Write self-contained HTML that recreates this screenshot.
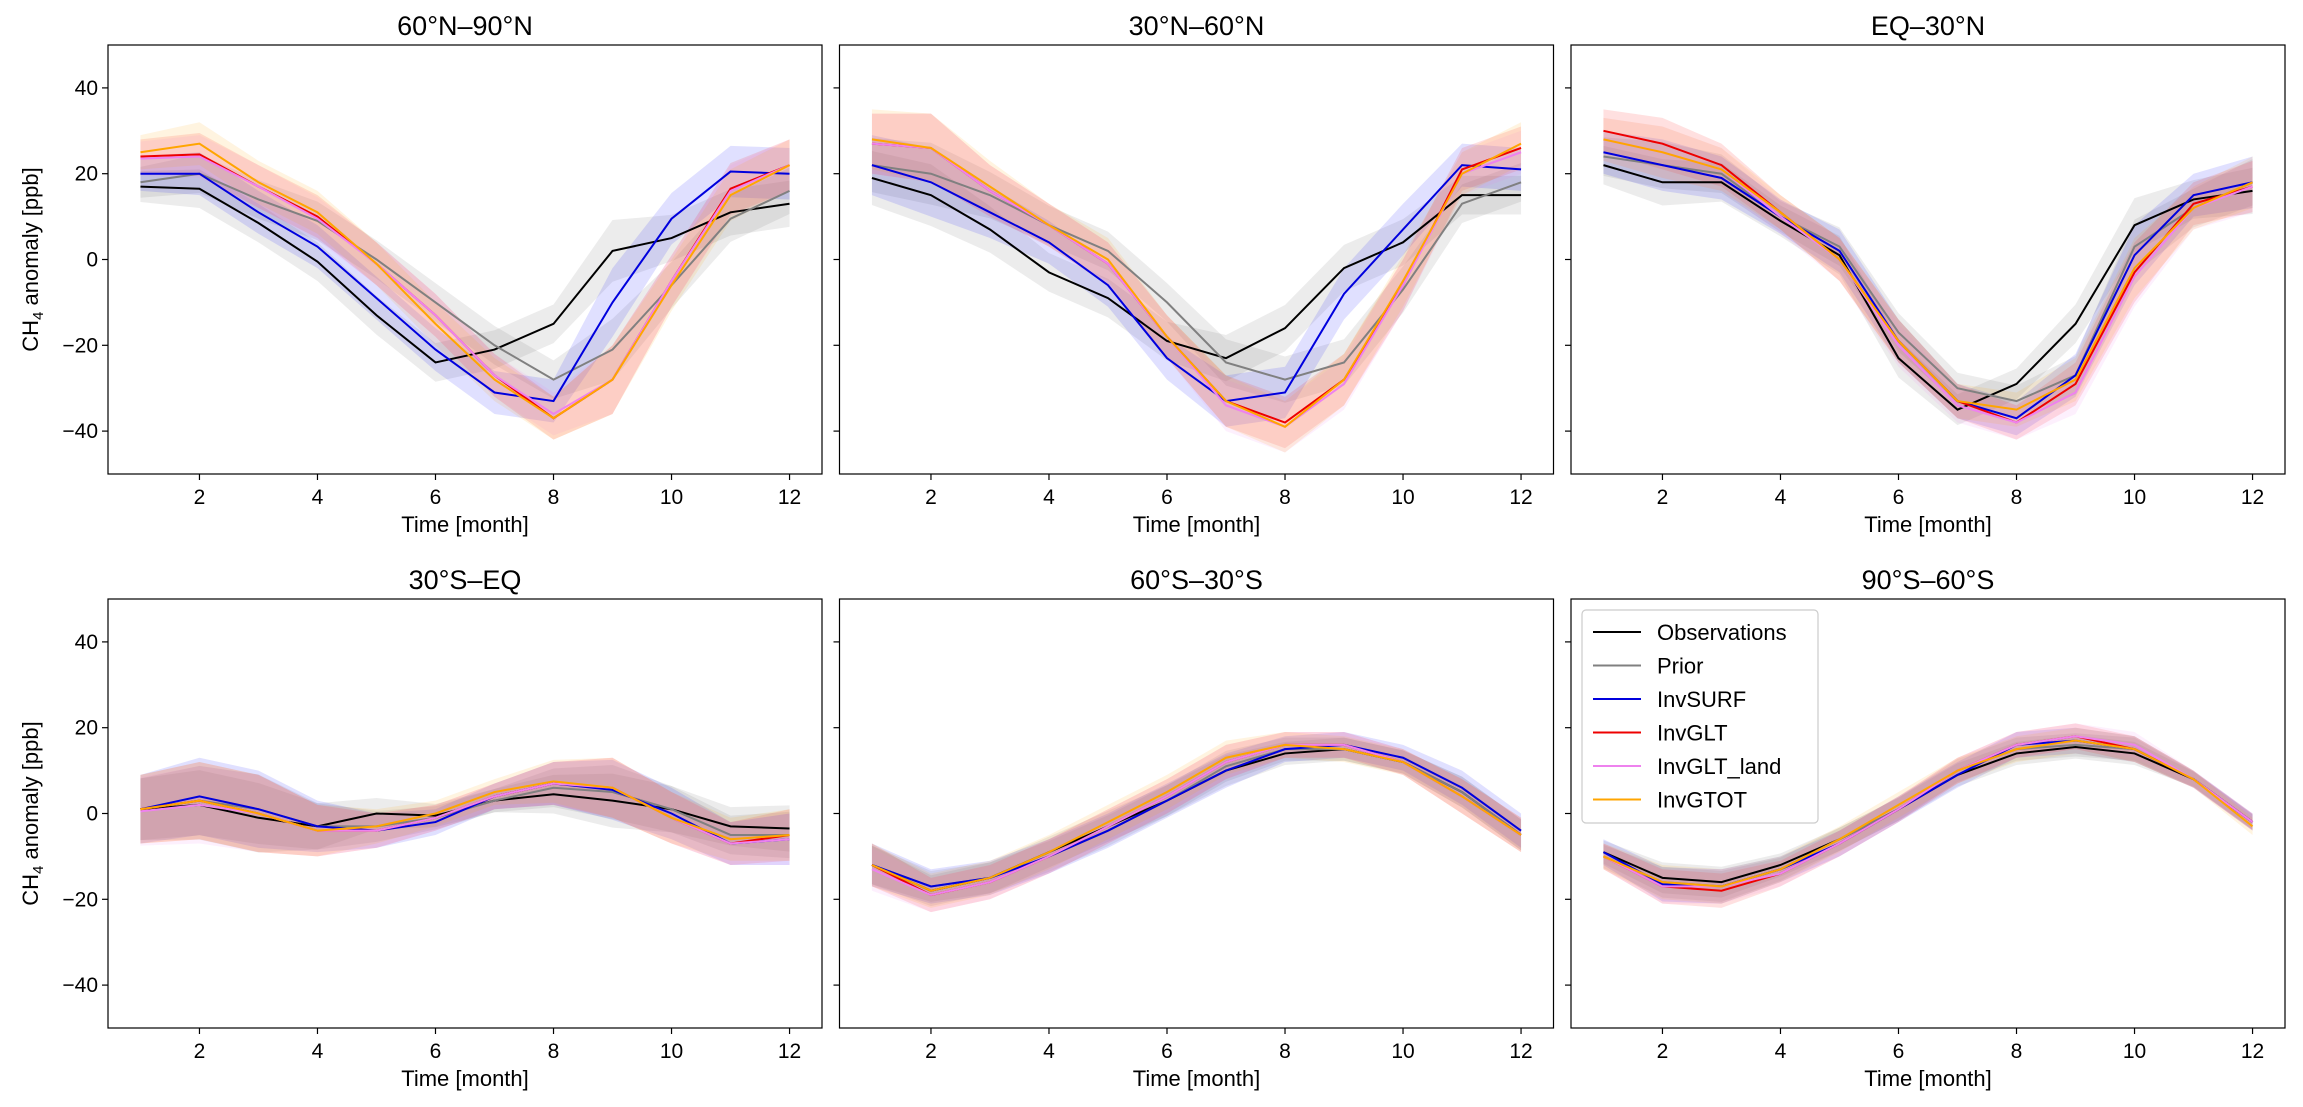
<!DOCTYPE html>
<html><head><meta charset="utf-8"><style>
html,body{margin:0;padding:0;background:#fff;}
svg{display:block;font-family:"Liberation Sans","DejaVu Sans",sans-serif;}
</style></head><body>
<svg id="fig" width="2303" height="1107" viewBox="0 0 2303 1107" xmlns="http://www.w3.org/2000/svg"></svg>
<script>
const months=[1,2,3,4,5,6,7,8,9,10,11,12];
const xTicks=[2,4,6,8,10,12];
const yTicks=[40,20,0,-20,-40];
const yTickLabels=["40","20","0","\u221220","\u221240"];
const seriesNames=["Observations","Prior","InvSURF","InvGLT","InvGLT_land","InvGTOT"];
const titles=["60°N–90°N","30°N–60°N","EQ–30°N","30°S–EQ","60°S–30°S","90°S–60°S"];
// panel 1
const p1Obs=[17,16.5,8.5,-0.5,-13,-24,-21,-15,2,5,11,13];
const p1Prior=[18,20,14,9,0,-10,-20,-28,-21,-6,9.5,16];
const p1Surf=[20,20,11,3,-9,-21,-31,-33,-10,9.5,20.5,20];
const p1Glt=[24,24.5,17,10,-1,-13,-27,-37,-28,-5,16.5,22];
const p1Land=[23.5,24,17,9.5,-1,-13,-27,-36,-28,-5,16,22];
const p1Gtot=[25,27,18,11,-1,-15,-28,-37,-28,-6,15,22];
const p1Spread=[4,5,5,5,5,5,5,5,8,6,6,6];
// panel 2
const p2Obs=[19,15,7,-3,-9,-19,-23,-16,-2,4,15,15];
const p2Prior=[22,20,15,8,2,-10,-24,-28,-24,-7,13,18];
const p2Surf=[22,18,11,4,-6,-23,-33,-31,-8,7,22,21];
const p2Glt=[27,26,16,8,-1,-18,-33,-38,-28,-6,21,26];
const p2Land=[27,26,16,8,-1,-18,-34,-39,-29,-6,20,25];
const p2Gtot=[28,26,17,8,0,-18,-33,-39,-28,-5,20,27];
const p2Spread=[7,8,6,5,5,5,6,6,6,6,5,5];
// panel 3
const p3Obs=[22,18,18,9,1,-23,-35,-29,-15,8,14,16];
const p3Prior=[24,22,20,10,3,-17,-30,-33,-27,3,12,18];
const p3Surf=[25,22,19,10,2,-19,-33,-37,-27,1,15,18];
const p3Glt=[30,27,22,11,0,-19,-33,-38,-29,-3,13,17];
const p3Land=[28,25,21,10,0,-20,-34,-38,-31,-4,12,17];
const p3Gtot=[28,25,21,11,0,-19,-33,-35,-28,-2,12,18];
const p3Spread=[5,6,5,4,5,5,4,4,5,7,5,6];
// panel 4
const p4Obs=[1,2,-1,-3,0,-0.5,3,4.5,3,1,-3,-3.5];
const p4Prior=[1,3,1,-3,-3,-1,3,6,5,1,-5,-5];
const p4Surf=[1,4,1,-3,-4,-2,4,7,5.5,0,-7,-6];
const p4Glt=[1,3,0,-4,-4,-1,4,7,6,-1,-7,-5];
const p4Land=[0.5,2,0,-4,-4,-1,4,7,6,-1,-7,-6];
const p4Gtot=[1,3,0,-4,-3,0,5,7.5,6,-1,-6,-5];
const p4Spread=[8,9,9,6,4,3,3,5,7,6,5,6];
// panel 5
const p5Obs=[-12,-18,-15,-9,-3,3,10,14,15,12,5,-5];
const p5Prior=[-12,-17,-15,-10,-4,3,11,15,15,12,5,-5];
const p5Surf=[-12,-17,-15,-10,-4,3,10,15,16,13,6,-4];
const p5Glt=[-12,-19,-16,-10,-3,4,12,16,16,12,4,-5];
const p5Land=[-13,-19,-16,-10,-3,4,12,16,16,12,4,-5];
const p5Gtot=[-12,-18,-15,-9,-2,5,13,16,15,12,4,-5];
const p5Spread=[5,4,4,4,4,4,4,3,3,3,4,4];
// panel 6
const p6Obs=[-9,-15,-16,-12,-6,1,9,14,15.5,14,8,-2];
const p6Prior=[-10,-16,-17,-13,-6,1,10,15,16,15,8,-2];
const p6Surf=[-9,-16.5,-17,-13,-7,1,9,16,17,15,8,-2];
const p6Glt=[-10,-17,-18,-14,-7,1,10,16,18,15,8,-2];
const p6Land=[-10,-17,-17,-14,-7,1,10,16,18,16,8,-2];
const p6Gtot=[-10,-16,-17,-13,-6,2,10,15,17,15,8,-3];
const p6Spread=[3,4,4,3,3,3,3,3,3,3,2,2];

const panels=[
 [p1Obs,p1Prior,p1Surf,p1Glt,p1Land,p1Gtot,p1Spread],
 [p2Obs,p2Prior,p2Surf,p2Glt,p2Land,p2Gtot,p2Spread],
 [p3Obs,p3Prior,p3Surf,p3Glt,p3Land,p3Gtot,p3Spread],
 [p4Obs,p4Prior,p4Surf,p4Glt,p4Land,p4Gtot,p4Spread],
 [p5Obs,p5Prior,p5Surf,p5Glt,p5Land,p5Gtot,p5Spread],
 [p6Obs,p6Prior,p6Surf,p6Glt,p6Land,p6Gtot,p6Spread]];
const colors=["#000000","#808080","#0000dd","#ee0000","#ee82ee","#ffa500"];
const bandColors=["#808080","#808080","#0000ff","#ff0000","#ee82ee","#ffa500"];
const NS="http://www.w3.org/2000/svg";
const svg=document.getElementById('fig');
function mk(tag,attrs,parent){const e=document.createElementNS(NS,tag);for(const k in attrs)e.setAttribute(k,attrs[k]);(parent||svg).appendChild(e);return e;}
const PW=714,PH=429,lefts=[108,839.5,1571],tops=[45,599];
const XMIN=0.45,XMAX=12.55,YMIN=-50,YMAX=50;
panels.forEach((P,pi)=>{
 const L=lefts[pi%3],T=tops[Math.floor(pi/3)];
 const xs=v=>L+(v-XMIN)/(XMAX-XMIN)*PW;
 const ys=v=>T+(YMAX-v)/(YMAX-YMIN)*PH;
 const g=mk('g',{});
 
 
 const cid='clip'+pi;
 const cp=mk('clipPath',{id:cid},g);mk('rect',{x:L,y:T,width:PW,height:PH},cp);
 const plot=mk('g',{'clip-path':'url(#'+cid+')'},g);
 const sp=P[6];
 for(let s=0;s<6;s++){
  const vals=P[s];
  const f=s<2?0.9:1;
  let d='M'+months.map((m,i)=>xs(m)+','+ys(vals[i]+sp[i]*f)).join('L');
  for(let i=11;i>=0;i--)d+='L'+xs(months[i])+','+ys(vals[i]-sp[i]*f);
  const b=mk('path',{d:d+'Z',fill:bandColors[s],'fill-opacity':s<2?0.15:0.12,stroke:'none'},plot);
  
  
 }
 for(let s=0;s<6;s++){
  const vals=P[s];
  const ln=mk('polyline',{points:months.map((m,i)=>xs(m)+','+ys(vals[i])).join(' '),fill:'none',stroke:colors[s],'stroke-width':2},plot);
  
  
 }
 mk('rect',{x:L,y:T,width:PW,height:PH,fill:'none',stroke:'#000','stroke-width':1.2},g);
 xTicks.forEach(t=>{
  mk('line',{x1:xs(t),x2:xs(t),y1:T+PH,y2:T+PH+6,stroke:'#000','stroke-width':1.2},g);
  const tx=mk('text',{x:xs(t),y:T+PH+30,'font-size':21,'text-anchor':'middle'},g);tx.textContent=t;
  
  
 });
 yTicks.forEach((t,i)=>{
  mk('line',{x1:L-6,x2:L,y1:ys(t),y2:ys(t),stroke:'#000','stroke-width':1.2},g);
  if(pi%3===0){const ty=mk('text',{x:L-10,y:ys(t)+7,'font-size':21,'text-anchor':'end'},g);ty.textContent=yTickLabels[i];
   
   }
 });
 const xl=mk('text',{x:L+PW/2,y:T+PH+58,'font-size':22,'text-anchor':'middle'},g);xl.textContent='Time [month]';
 
 
 const ti=mk('text',{x:L+PW/2,y:T-10,'font-size':27,'text-anchor':'middle'},g);ti.textContent=titles[pi];
 
 
 if(pi%3===0){
  const yl=mk('text',{x:0,y:0,'font-size':22,'text-anchor':'middle',transform:'translate(38,'+(T+PH/2)+') rotate(-90)'},g);
  yl.innerHTML='CH<tspan font-size="15" dy="5">4</tspan><tspan dy="-5"> anomaly [ppb]</tspan>';
  
  
 }
 if(pi===5){
  const lg=mk('g',{},g);
  
  
  mk('rect',{x:L+11,y:T+11,width:236,height:213,rx:4,fill:'#fff','fill-opacity':0.85,stroke:'#ccc','stroke-width':1.2},lg);
  seriesNames.forEach((n,i)=>{
   const yy=T+33+i*33.5;
   mk('line',{x1:L+22,x2:L+70,y1:yy,y2:yy,stroke:colors[i],'stroke-width':2},lg);
   const t=mk('text',{x:L+86,y:yy+8,'font-size':22},lg);t.textContent=n;
   
   
  });
 }
});
</script>
</body></html>
